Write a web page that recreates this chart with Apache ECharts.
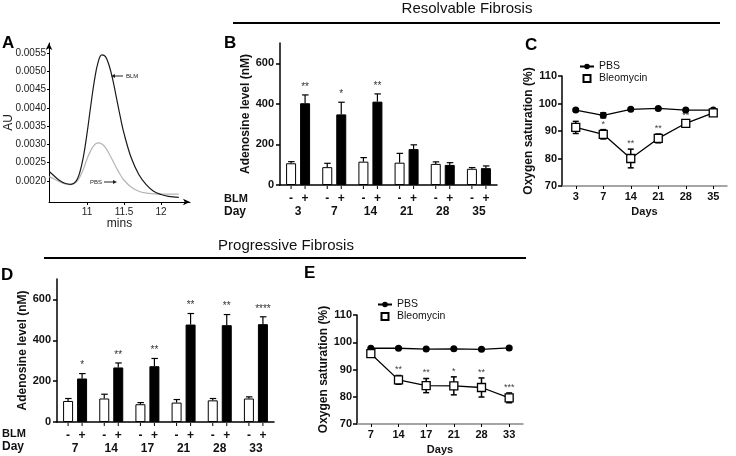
<!DOCTYPE html>
<html><head><meta charset="utf-8">
<script src="https://cdn.jsdelivr.net/npm/echarts@6/dist/echarts.min.js"></script>
<style>html,body{margin:0;padding:0;background:#fff}#c{width:736px;height:456px}</style>
</head><body><div id="c"></div><script>
const FONT = "'Liberation Sans', Arial, sans-serif";

// ---- Panel A: chromatogram ----
const aTime = [10.49,10.55,10.62,10.70,10.78,10.85,10.90,10.95,11.00,11.05,11.10,11.15,11.20,11.25,11.30,11.35,11.40,11.45,11.50,11.60,11.70,11.80,11.90,12.00,12.10,12.24];
const aBLM  = [0.00226,0.00215,0.00203,0.00194,0.00191,0.00199,0.00222,0.00265,0.00330,0.00405,0.00475,0.00525,0.00545,0.00540,0.00515,0.00475,0.00425,0.00375,0.00330,0.00262,0.00218,0.00190,0.00172,0.00163,0.00158,0.00155];
const aPBS  = [0.00212,0.00206,0.00199,0.00192,0.00190,0.00196,0.00210,0.00232,0.00260,0.00283,0.00299,0.00304,0.00301,0.00291,0.00274,0.00255,0.00235,0.00217,0.00202,0.00183,0.00172,0.00167,0.00165,0.00164,0.00164,0.00164];
const aYTicks = [0.0020,0.0025,0.0030,0.0035,0.0040,0.0045,0.0050,0.0055];
const aXTicks = [11, 11.5, 12];

// ---- Panel B: resolvable adenosine ----
const bDays = ['3','7','14','21','28','35'];
const bPBS = [107,88,115,110,104,80];
const bPBSErr = [8,19,20,46,10,6];
const bBLM = [403,348,411,177,99,83];
const bBLMErr = [41,60,38,21,11,11];
const bStars = ['**','*','**','','',''];

// ---- Panel C: resolvable oxygen saturation ----
const cDays = ['3','7','14','21','28','35'];
const cPBS = [97.6,95.7,97.9,98.2,97.6,97.6];
const cPBSErr = [0.4,0.9,0.4,0.3,0.3,0.3];
const cBleo = [91.3,88.8,80.0,87.3,92.8,96.6];
const cBleoErr = [2.2,1.7,3.4,1.6,1.0,0.6];
const cStars = ['','*','**','**','**',''];

// ---- Panel D: progressive adenosine ----
const dDays = ['7','14','17','21','28','33'];
const dPBS = [103,115,87,95,106,115];
const dPBSErr = [12,21,8,15,9,8];
const dBLM = [213,267,273,477,474,479];
const dBLMErr = [24,22,38,54,52,36];
const dStars = ['*','**','**','**','**','****'];

// ---- Panel E: progressive oxygen saturation ----
const eDays = ['7','14','17','21','28','33'];
const ePBS = [97.8,97.8,97.5,97.6,97.4,97.9];
const ePBSErr = [0.3,0.3,0.3,0.3,0.3,0.3];
const eBleo = [95.8,86.2,84.1,84.0,83.4,79.6];
const eBleoErr = [0.6,1.6,2.6,3.3,3.5,1.8];
const eStars = ['','**','**','*','**','***'];

const adenoTicks = [0,200,400,600];

const chart = echarts.init(document.getElementById('c'), null, {renderer:'canvas'});

function barExtras(pbs, pbsErr, blm, blmErr, stars) {
  return function (params, api) {
    const i = params.dataIndex;
    const base = api.coord([i, 0]);
    const ch = [];
    const items = [[pbs[i], pbsErr[i], -7, '-'], [blm[i], blmErr[i], 7, '+']];
    items.forEach(function (it) {
      const top = api.coord([i, it[0]]);
      const et = api.coord([i, it[0] + it[1]]);
      const x = base[0] + it[2];
      ch.push({type:'line', shape:{x1:x, y1:top[1], x2:x, y2:et[1]}, style:{stroke:'#000', lineWidth:1.2}});
      ch.push({type:'line', shape:{x1:x-3, y1:et[1], x2:x+3.5, y2:et[1]}, style:{stroke:'#000', lineWidth:1.2}});
      ch.push({type:'line', shape:{x1:x, y1:base[1]+1, x2:x, y2:base[1]+4}, style:{stroke:'#000', lineWidth:1}});
      ch.push({type:'text', x:x, y:base[1]+14, style:{text:it[3], font:'bold 12px ' + FONT, fill:'#111', align:'center', verticalAlign:'middle'}});
      if (it[3] === '+' && stars[i]) {
        ch.push({type:'text', x:x, y:et[1]-3, style:{text:stars[i], font:'10px ' + FONT, fill:'#333', align:'center', verticalAlign:'bottom'}});
      }
    });
    return {type:'group', children:ch};
  };
}

function lineExtras(pbs, pbsErr, bleo, bleoErr, stars) {
  return function (params, api) {
    const i = params.dataIndex;
    const ch = [];
    let topY = null;
    [[pbs[i], pbsErr[i], false], [bleo[i], bleoErr[i], true]].forEach(function (it) {
      const p1 = api.coord([i, it[0] + it[1]]);
      const p2 = api.coord([i, it[0] - it[1]]);
      const x = p1[0];
      ch.push({type:'line', shape:{x1:x, y1:p1[1], x2:x, y2:p2[1]}, style:{stroke:'#000', lineWidth:1.5}});
      ch.push({type:'line', shape:{x1:x-3, y1:p1[1], x2:x+3, y2:p1[1]}, style:{stroke:'#000', lineWidth:1.5}});
      ch.push({type:'line', shape:{x1:x-3, y1:p2[1], x2:x+3, y2:p2[1]}, style:{stroke:'#000', lineWidth:1.5}});
      if (it[2]) topY = p1[1];
    });
    if (stars[i]) {
      const x = api.coord([i, 0])[0];
      ch.push({type:'text', x:x, y:topY-1, style:{text:stars[i], font:'9px ' + FONT, fill:'#444', align:'center', verticalAlign:'bottom'}});
    }
    return {type:'group', children:ch};
  };
}

const boldLabel = {fontFamily:FONT, fontWeight:'bold', fontSize:11, color:'#111'};
const blackLine = {lineStyle:{color:'#000', width:1.5}};

function barX(grid, days) {
  return {gridIndex:grid, type:'category', data:days, axisLine:blackLine, axisTick:{show:false},
    axisLabel:Object.assign({}, boldLabel, {margin:21, fontSize:12})};
}
function barY(grid) {
  return {gridIndex:grid, type:'value', min:0, max:700, splitLine:{show:false},
    axisLine:Object.assign({show:true}, blackLine), axisTick:{show:true, length:4, customValues:adenoTicks, lineStyle:{color:'#000', width:1.5}},
    axisLabel:Object.assign({margin:6, customValues:adenoTicks}, boldLabel),
    name:'Adenosine level (nM)', nameLocation:'middle', nameGap:27,
    nameTextStyle:{fontFamily:FONT, fontWeight:'bold', fontSize:12, color:'#111'}};
}
function satX(grid, days) {
  return {gridIndex:grid, type:'category', data:days, axisLine:{lineStyle:{color:'#888', width:1.5}},
    axisTick:{show:true, alignWithLabel:true, length:3, lineStyle:{color:'#000'}},
    axisLabel:Object.assign({margin:5}, boldLabel),
    name:'Days', nameLocation:'middle', nameGap:20, nameTextStyle:{fontFamily:FONT, fontWeight:'bold', fontSize:11, color:'#111'}};
}
function satY(grid) {
  return {gridIndex:grid, type:'value', min:70, max:110, interval:10, splitLine:{show:false},
    axisLine:Object.assign({show:true}, blackLine), axisTick:{show:true, length:4, lineStyle:{color:'#000', width:1.5}},
    axisLabel:Object.assign({margin:5}, boldLabel),
    name:'Oxygen saturation (%)', nameLocation:'middle', nameGap:25,
    nameTextStyle:{fontFamily:FONT, fontWeight:'bold', fontSize:12, color:'#111'}};
}

function barSeries(ax, pbs, blm) {
  return [
    {name:'PBS bars', type:'bar', xAxisIndex:ax, yAxisIndex:ax, data:pbs, barWidth:10, barGap:'40%',
      itemStyle:{color:'#fff', borderColor:'#000', borderWidth:1}, silent:true, z:2},
    {name:'BLM bars', type:'bar', xAxisIndex:ax, yAxisIndex:ax, data:blm, barWidth:10, barGap:'40%',
      itemStyle:{color:'#000', borderColor:'#000', borderWidth:1}, silent:true, z:2}
  ];
}
function satSeries(ax, pbs, bleo) {
  return [
    {name:'PBS', type:'line', xAxisIndex:ax, yAxisIndex:ax, data:pbs, symbol:'circle', symbolSize:7,
      itemStyle:{color:'#000'}, lineStyle:{color:'#000', width:1.3}, z:3},
    {name:'Bleomycin', type:'line', xAxisIndex:ax, yAxisIndex:ax, data:bleo, symbol:'rect', symbolSize:8,
      itemStyle:{color:'#fff', borderColor:'#000', borderWidth:1.3}, lineStyle:{color:'#000', width:1.3}, z:3}
  ];
}
function legendAt(left, top) {
  return {left:left, top:top, orient:'vertical', itemGap:1, itemWidth:14, itemHeight:7,
    textStyle:{fontFamily:FONT, fontSize:10.5, color:'#111'},
    data:[{name:'PBS'}, {name:'Bleomycin', icon:'path://M0,0H10V10H0Z'}]};
}

const option = {
  animation:false,
  backgroundColor:'#fff',
  textStyle:{fontFamily:FONT},
  grid:[
    {left:49, top:43, width:141, height:159, outerBoundsMode:'none'},
    {left:280, top:43, width:217, height:142, outerBoundsMode:'none'},
    {left:562, top:76, width:165, height:110, outerBoundsMode:'none'},
    {left:57, top:279, width:217, height:143, outerBoundsMode:'none'},
    {left:357, top:315, width:166, height:109, outerBoundsMode:'none'}
  ],
  legend:[legendAt(574, 56), legendAt(372, 294)],
  xAxis:[
    {gridIndex:0, type:'value', min:10.486, max:12.392, splitLine:{show:false},
      axisLine:{symbol:['none','arrow'], symbolSize:[5,7], lineStyle:{color:'#000', width:1}},
      axisTick:{customValues:aXTicks, length:3, lineStyle:{color:'#000'}},
      axisLabel:{customValues:aXTicks, fontSize:10, margin:5, color:'#222', fontFamily:FONT, formatter:function(v){return String(v);}},
      name:'mins', nameLocation:'middle', nameGap:14, nameTextStyle:{fontFamily:FONT, fontSize:12, color:'#222'}},
    barX(1, bDays), satX(2, cDays), barX(3, dDays), satX(4, eDays)
  ],
  yAxis:[
    {gridIndex:0, type:'value', min:0.001426, max:0.005773, splitLine:{show:false},
      axisLine:{show:true, symbol:['none','arrow'], symbolSize:[5,7], lineStyle:{color:'#000', width:1}},
      axisTick:{show:true, customValues:aYTicks, length:2, lineStyle:{color:'#000'}},
      axisLabel:{customValues:aYTicks, fontSize:10, margin:3, color:'#222', fontFamily:FONT, formatter:function(v){return v.toFixed(4);}},
      name:'AU', nameLocation:'middle', nameGap:34, nameMoveOverlap:false,
      nameTextStyle:{fontFamily:FONT, fontSize:12, color:'#222'}},
    barY(1), satY(2), barY(3), satY(4)
  ],
  series:[
    {name:'BLM trace', type:'line', xAxisIndex:0, yAxisIndex:0, smooth:0.4, showSymbol:false,
      data:aTime.map(function(t,i){return [t, aBLM[i]];}), lineStyle:{color:'#1a1a1a', width:1.2}, z:3},
    {name:'PBS trace', type:'line', xAxisIndex:0, yAxisIndex:0, smooth:0.4, showSymbol:false,
      data:aTime.map(function(t,i){return [t, aPBS[i]];}), lineStyle:{color:'#b5b5b5', width:1.2}, z:2}
  ]
  .concat(barSeries(1, bPBS, bBLM))
  .concat([{name:'B extras', type:'custom', xAxisIndex:1, yAxisIndex:1, clip:false, z:4,
      data:bDays.map(function(d,i){return [i, bBLM[i]];}), encode:{x:0, y:1},
      renderItem:barExtras(bPBS, bPBSErr, bBLM, bBLMErr, bStars)}])
  .concat(satSeries(2, cPBS, cBleo))
  .concat([{name:'C extras', type:'custom', xAxisIndex:2, yAxisIndex:2, clip:false, z:1,
      data:cDays.map(function(d,i){return [i, cBleo[i]];}), encode:{x:0, y:1},
      renderItem:lineExtras(cPBS, cPBSErr, cBleo, cBleoErr, cStars)}])
  .concat(barSeries(3, dPBS, dBLM))
  .concat([{name:'D extras', type:'custom', xAxisIndex:3, yAxisIndex:3, clip:false, z:4,
      data:dDays.map(function(d,i){return [i, dBLM[i]];}), encode:{x:0, y:1},
      renderItem:barExtras(dPBS, dPBSErr, dBLM, dBLMErr, dStars)}])
  .concat(satSeries(4, ePBS, eBleo))
  .concat([{name:'E extras', type:'custom', xAxisIndex:4, yAxisIndex:4, clip:false, z:1,
      data:eDays.map(function(d,i){return [i, eBleo[i]];}), encode:{x:0, y:1},
      renderItem:lineExtras(ePBS, ePBSErr, eBleo, eBleoErr, eStars)}]),
  graphic:[
    {type:'text', x:467, y:9, style:{text:'Resolvable Fibrosis', font:'15px ' + FONT, fill:'#111', align:'center', verticalAlign:'middle'}},
    {type:'line', shape:{x1:233, y1:23, x2:720, y2:23}, style:{stroke:'#000', lineWidth:2}},
    {type:'text', x:286, y:246, style:{text:'Progressive Fibrosis', font:'15px ' + FONT, fill:'#111', align:'center', verticalAlign:'middle'}},
    {type:'line', shape:{x1:44, y1:258, x2:526, y2:258}, style:{stroke:'#000', lineWidth:2}},
    {type:'text', x:2, y:43, style:{text:'A', font:'bold 17px ' + FONT, fill:'#000', verticalAlign:'middle'}},
    {type:'text', x:224, y:43, style:{text:'B', font:'bold 17px ' + FONT, fill:'#000', verticalAlign:'middle'}},
    {type:'text', x:525, y:45, style:{text:'C', font:'bold 17px ' + FONT, fill:'#000', verticalAlign:'middle'}},
    {type:'text', x:1, y:275, style:{text:'D', font:'bold 17px ' + FONT, fill:'#000', verticalAlign:'middle'}},
    {type:'text', x:304, y:273, style:{text:'E', font:'bold 17px ' + FONT, fill:'#000', verticalAlign:'middle'}},
    {type:'text', x:224, y:199, style:{text:'BLM', font:'bold 11px ' + FONT, fill:'#111', verticalAlign:'middle'}},
    {type:'text', x:224, y:212, style:{text:'Day', font:'bold 12px ' + FONT, fill:'#111', verticalAlign:'middle'}},
    {type:'text', x:2, y:434, style:{text:'BLM', font:'bold 11px ' + FONT, fill:'#111', verticalAlign:'middle'}},
    {type:'text', x:2, y:447, style:{text:'Day', font:'bold 12px ' + FONT, fill:'#111', verticalAlign:'middle'}},
    {type:'line', shape:{x1:113, y1:76, x2:123, y2:76}, style:{stroke:'#222', lineWidth:1}},
    {type:'polygon', shape:{points:[[111,76],[115,74],[115,78]]}, style:{fill:'#222'}},
    {type:'text', x:126, y:76, style:{text:'BLM', font:'6px ' + FONT, fill:'#222', verticalAlign:'middle'}},
    {type:'text', x:90, y:182, style:{text:'PBS', font:'6px ' + FONT, fill:'#222', verticalAlign:'middle'}},
    {type:'line', shape:{x1:104, y1:182, x2:114, y2:182}, style:{stroke:'#222', lineWidth:1}},
    {type:'polygon', shape:{points:[[117,182],[113,180],[113,184]]}, style:{fill:'#222'}}
  ]
};
chart.setOption(option);
</script></body></html>
